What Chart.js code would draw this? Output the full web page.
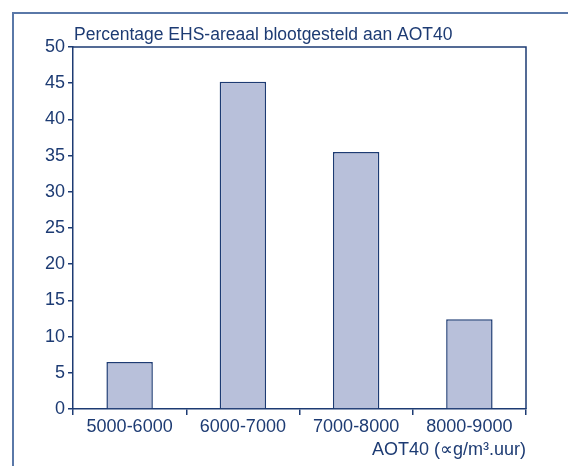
<!DOCTYPE html>
<html>
<head>
<meta charset="utf-8">
<script src="https://cdn.jsdelivr.net/npm/chart.js@4"></script>
<style>
  html, body { margin: 0; padding: 0; background: #fff; }
  #wrap { width: 568px; height: 466px; }
</style>
</head>
<body>
<div id="wrap"><canvas id="grafiek"></canvas></div>
<script>
const categorieen = ['5000-6000', '6000-7000', '7000-8000', '8000-9000'];
const percentages = [6.5, 45.2, 35.5, 12.4];
const yTicks = [0, 5, 10, 15, 20, 25, 30, 35, 40, 45, 50];

const titel = 'Percentage EHS-areaal blootgesteld aan AOT40';
const asTitel = 'AOT40 (\u221Dg/m\u00B3.uur)';

const tekstKleur = '#1d3b73';
const lijnKleur = '#1d3b73';
const kaderKleur = '#5a78a8';
const letter = '"Liberation Sans", Arial, sans-serif';

const kaderPlugin = {
    id: 'kader',
    beforeDraw(chart) {
        const ctx = chart.ctx;
        ctx.save();
        ctx.strokeStyle = kaderKleur;
        ctx.lineWidth = 2;
        ctx.beginPath();
        ctx.moveTo(13, 466);
        ctx.lineTo(13, 13);
        ctx.lineTo(568, 13);
        ctx.stroke();
        ctx.restore();
    },
    afterDatasetsDraw(chart) {
        const { ctx, chartArea } = chart;
        ctx.save();
        ctx.strokeStyle = lijnKleur;
        ctx.lineWidth = 1.5;
        ctx.beginPath();
        ctx.moveTo(chartArea.left, chartArea.top);
        ctx.lineTo(chartArea.right, chartArea.top);
        ctx.lineTo(chartArea.right, chartArea.bottom);
        ctx.stroke();
        ctx.fillStyle = tekstKleur;
        ctx.font = '17.5px ' + letter;
        ctx.textAlign = 'left';
        ctx.textBaseline = 'alphabetic';
        ctx.fillText(titel, chartArea.left + 1, chartArea.top - 7);
        ctx.restore();
    }
};

new Chart(document.getElementById('grafiek'), {
    type: 'bar',
    data: {
        labels: categorieen,
        datasets: [{
            data: percentages,
            backgroundColor: '#b8c0da',
            borderColor: lijnKleur,
            borderWidth: 1.5,
            barPercentage: 0.41,
            categoryPercentage: 1
        }]
    },
    options: {
        responsive: true,
        maintainAspectRatio: false,
        animation: false,
        layout: { padding: { left: 0, right: 42, top: 47, bottom: 0 } },
        plugins: {
            legend: { display: false },
            tooltip: { enabled: false }
        },
        scales: {
            x: {
                grid: {
                    offset: true,
                    drawOnChartArea: false,
                    drawTicks: true,
                    tickLength: 6,
                    color: lijnKleur,
                    lineWidth: 1.5
                },
                border: { display: true, color: lijnKleur, width: 1.5 },
                ticks: {
                    color: tekstKleur,
                    padding: 1,
                    font: { family: letter, size: 18 }
                },
                title: {
                    display: true,
                    text: asTitel,
                    align: 'end',
                    color: tekstKleur,
                    padding: { top: 2, bottom: 5 },
                    font: { family: letter, size: 18 }
                },
                afterFit(scale) { scale.height = 57; }
            },
            y: {
                min: 0,
                max: 50,
                afterBuildTicks(scale) { scale.ticks = yTicks.map(v => ({ value: v })); },
                grid: {
                    drawOnChartArea: false,
                    drawTicks: true,
                    tickLength: 5,
                    color: lijnKleur,
                    lineWidth: 1.5
                },
                border: { display: true, color: lijnKleur, width: 1.5 },
                ticks: {
                    color: tekstKleur,
                    padding: 3,
                    font: { family: letter, size: 18 }
                },
                afterFit(scale) { scale.width = 73; }
            }
        }
    },
    plugins: [kaderPlugin]
});
</script>
</body>
</html>
